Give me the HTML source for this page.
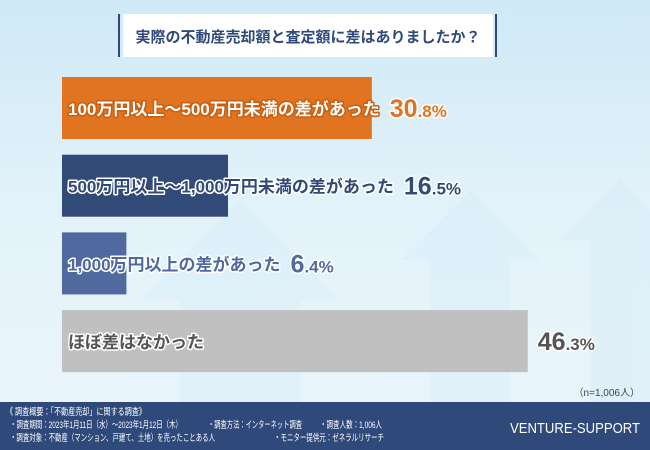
<!DOCTYPE html>
<html><head><meta charset="utf-8">
<style>
body{margin:0;width:650px;height:450px;overflow:hidden;font-family:"Liberation Sans","Noto Sans CJK JP",sans-serif}
svg{display:block}
text{font-family:"Liberation Sans","Noto Sans CJK JP",sans-serif}
</style></head>
<body>
<svg id="c" width="650" height="450">
<defs>
<linearGradient id="bg" x1="0" y1="0" x2="0" y2="1">
<stop offset="0" stop-color="#cfe9f6"/><stop offset="0.5" stop-color="#e4f3fa"/><stop offset="1" stop-color="#eaf5fb"/>
</linearGradient>
</defs>
<rect width="650" height="450" fill="url(#bg)"/>
<g opacity="0.35" fill="#d2ebf6">
<polygon points="140,300 240,200 340,300 300,300 300,402 180,402 180,300"/>
<polygon points="400,260 470,190 540,260 510,260 510,402 430,402 430,260"/>
<polygon points="560,240 620,180 650,210 650,402 590,402 590,240"/>
</g>
<rect x="123" y="14" width="370" height="43" fill="#fff"/>
<rect x="118" y="14" width="2" height="43" fill="#2f4a7a"/>
<rect x="495" y="14" width="2" height="43" fill="#2f4a7a"/>
<text x="308" y="42" text-anchor="middle" font-size="15" font-weight="bold" fill="#2f4a7a">実際の不動産売却額と査定額に差はありましたか？</text>
<g id="bars"></g>
<text x="640" y="396" text-anchor="end" font-size="10" fill="#444">（n=1,006人）</text>
<rect x="0" y="402" width="650" height="48" fill="#2f4a7a"/>
<g fill="#fff" font-size="9.5">
<text x="6" y="415" textLength="140" lengthAdjust="spacingAndGlyphs">《 調査概要：「不動産売却」に関する調査》</text>
<text x="10" y="428" textLength="172" lengthAdjust="spacingAndGlyphs">・調査期間：2023年1月11日（水）～2023年1月12日（木）</text>
<text x="208" y="428" textLength="94" lengthAdjust="spacingAndGlyphs">・調査方法：インターネット調査</text>
<text x="320" y="428" textLength="62" lengthAdjust="spacingAndGlyphs">・調査人数：1,006人</text>
<text x="10" y="441" textLength="205" lengthAdjust="spacingAndGlyphs">・調査対象：不動産（マンション、戸建て、土地）を売ったことある人</text>
<text x="274" y="441" textLength="110" lengthAdjust="spacingAndGlyphs">・モニター提供元：ゼネラルリサーチ</text>
</g>
<text x="510" y="433" font-size="15" fill="#fff" textLength="130" lengthAdjust="spacingAndGlyphs">VENTURE-SUPPORT</text>
</svg>
<script>
const categories=["100万円以上～500万円未満の差があった","500万円以上～1,000万円未満の差があった","1,000万円以上の差があった","ほぼ差はなかった"];
const values=[30.8,16.5,6.4,46.3];
const barColors=["#e07420","#324a78","#50699f","#c0c0c0"];
const labelFills=["#ffffff","#324a78","#50699f","#555555"];
const labelStrokes=["#c85e10","#ffffff","#ffffff","#ffffff"];
const pctFills=["#e07420","#324a78","#50699f","#555555"];
const x0=62,pxPer=10.06,y0=77,step=77.7,bh=62;
const xs=v=>v*pxPer;
const g=document.getElementById('bars');
const NS="http://www.w3.org/2000/svg";
categories.forEach((c,i)=>{
 const y=y0+i*step;
 const r=document.createElementNS(NS,'rect');
 
 
 r.setAttribute('x',x0);r.setAttribute('y',y);r.setAttribute('width',xs(values[i]));r.setAttribute('height',bh);r.setAttribute('fill',barColors[i]);
 g.appendChild(r);
 const t=document.createElementNS(NS,'text');
 
 
 t.setAttribute('x',68);t.setAttribute('y',y+bh/2+7);t.setAttribute('font-size','17');t.setAttribute('font-weight','bold');
 t.setAttribute('fill',labelFills[i]);t.setAttribute('stroke',labelStrokes[i]);t.setAttribute('stroke-width','3');t.setAttribute('paint-order','stroke');t.setAttribute('stroke-linejoin','round');
 t.textContent=c;g.appendChild(t);
 let px=68+t.getComputedTextLength()+10;
 px=Math.max(px,x0+xs(values[i])+10);
 const p=document.createElementNS(NS,'text');
 
 
 p.setAttribute('x',px);p.setAttribute('y',y+bh/2+9);p.setAttribute('font-weight','bold');
 p.setAttribute('fill',pctFills[i]);p.setAttribute('stroke','#fff');p.setAttribute('stroke-width','3');p.setAttribute('paint-order','stroke');p.setAttribute('stroke-linejoin','round');
 const parts=values[i].toFixed(1).split('.');
 const a=document.createElementNS(NS,'tspan');a.setAttribute('font-size','25');a.textContent=parts[0];
 const b=document.createElementNS(NS,'tspan');b.setAttribute('font-size','17');b.textContent='.'+parts[1]+'%';
 p.appendChild(a);p.appendChild(b);g.appendChild(p);
});
</script>
</body></html>
